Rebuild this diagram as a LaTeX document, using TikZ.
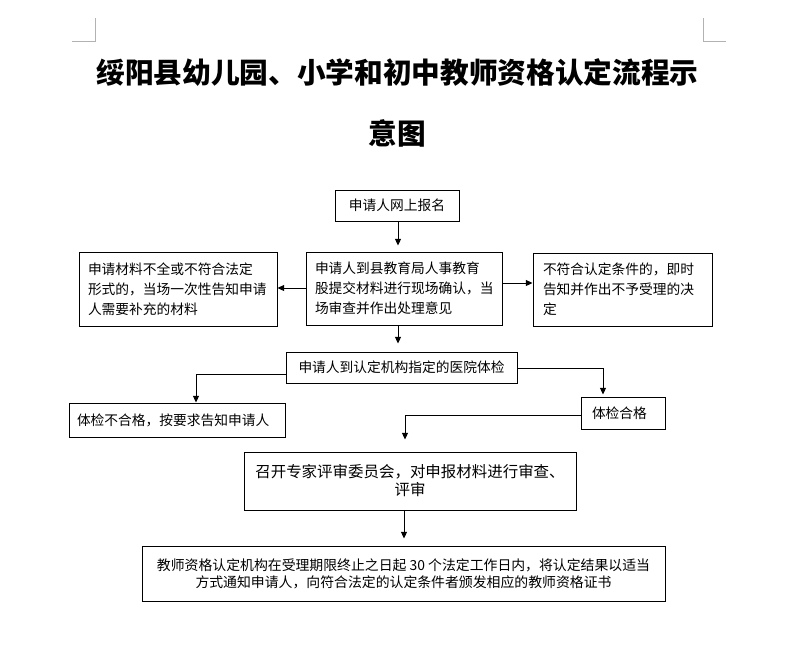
\documentclass[tikz,border=0pt]{standalone}
\usepackage{fontspec}
\newfontfamily\cjk{Noto Sans CJK SC}
\usetikzlibrary{arrows.meta}
\tikzset{
  box/.style={draw, line width=0.75pt, inner ysep=0pt, font=\cjk\fontsize{10.3}{15}\selectfont},
  lbox/.style={box, align=left},
  cbox/.style={box, align=center, inner xsep=0pt},
  arr/.style={line width=0.75pt, -{Triangle[length=5pt,width=4.5pt]}},
  cornermark/.style={line width=0.75pt, draw=black!30},
}
\begin{document}
\begin{tikzpicture}[x=0.75pt,y=-0.75pt]
\useasboundingbox (0,0) rectangle (789,669);
\fill[white] (0,0) rectangle (789,669);
% page corner marks
\draw[cornermark] (72,41) -- (95,41) -- (95,18);
\draw[cornermark] (703,18) -- (703,41) -- (726,41);
% title
\node[font=\cjk\bfseries\fontsize{21.5}{45.75}\selectfont, align=center] (title) at (397.5,102.5)
  {绥阳县幼儿园、小学和初中教师资格认定流程示\\意图};
% boxes
\node[cbox, minimum width=124*0.75pt, minimum height=31*0.75pt] (b1) at (397,205.5) {申请人网上报名};
\node[lbox, inner xsep=9*0.75pt, text width=178*0.75pt, minimum height=73*0.75pt] (b2) at (404,288.5)
  {申请人到县教育局人事教育\\股提交材料进行现场确认，当\\场审查并作出处理意见};
\node[lbox, inner xsep=9*0.75pt, text width=180*0.75pt, minimum height=74*0.75pt] (lf) at (178,289)
  {申请材料不全或不符合法定\\形式的，当场一次性告知申请\\人需要补充的材料};
\node[lbox, inner xsep=10*0.75pt, text width=159*0.75pt, minimum height=73*0.75pt] (rt) at (622.5,289.5)
  {不符合认定条件的，即时\\告知并作出不予受理的决\\定};
\node[cbox, minimum width=231*0.75pt, minimum height=31*0.75pt] (med) at (401.5,367.5) {申请人到认定机构指定的医院体检};
\node[lbox, inner xsep=8*0.75pt, text width=200*0.75pt, minimum height=34*0.75pt] (fail) at (177,420) {体检不合格，按要求告知申请人};
\node[lbox, inner xsep=11*0.75pt, text width=62*0.75pt, minimum height=32*0.75pt] (pass) at (623,413) {体检合格};
\node[cbox, font=\cjk\fontsize{11.6}{13.5}\selectfont, minimum width=332*0.75pt, minimum height=58*0.75pt] (meet) at (410,481)
  {召开专家评审委员会，对申报材料进行审查、\\评审};
\node[cbox, font=\cjk\fontsize{10.4}{12.75}\selectfont, minimum width=523*0.75pt, minimum height=55*0.75pt] (final) at (403.5,573.5)
  {教师资格认定机构在受理期限终止之日起 30 个法定工作日内，将认定结果以适当\\方式通知申请人，向符合法定的认定条件者颁发相应的教师资格证书};
% helper coordinates
\coordinate (x1) at (398,0);
\coordinate (y1) at (0,288);
\coordinate (y2) at (0,283);
\coordinate (k1) at (196,374);
\coordinate (k2) at (603,368);
\coordinate (k3) at (405,415);
\coordinate (x4) at (404,0);
% connectors
\draw[arr, shorten >=6*0.75pt] (b1.south -| x1) -- (b2.north -| x1);
\draw[arr] (b2.west |- y1) -- (lf.east |- y1);
\draw[arr] (b2.east |- y2) -- (rt.west |- y2);
\draw[arr, shorten >=8*0.75pt] (b2.south -| x1) -- (med.north -| x1);
\draw[arr] (med.west |- k1) -- (k1) -- (fail.north -| k1);
\draw[arr, shorten >=2*0.75pt] (med.east |- k2) -- (k2) -- (pass.north -| k2);
\draw[arr, shorten >=12*0.75pt] (pass.west |- k3) -- (k3) -- (meet.north -| k3);
\draw[arr, shorten >=7*0.75pt] (meet.south -| x4) -- (final.north -| x4);
\end{tikzpicture}
\end{document}
